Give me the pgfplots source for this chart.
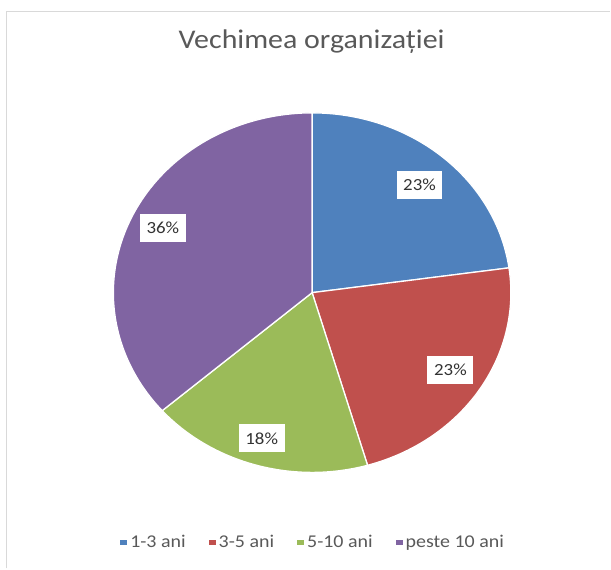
\documentclass[border=0pt]{standalone}
\usepackage{fontspec}
\setmainfont{Carlito}
\usepackage{pgfplots}
\usepackage{graphicx}
\pgfplotsset{compat=1.18}
\definecolor{cBlue}{HTML}{4F81BD}
\definecolor{cRed}{HTML}{C0504D}
\definecolor{cGreen}{HTML}{9BBB59}
\definecolor{cPurple}{HTML}{8064A2}
\definecolor{txt}{HTML}{595959}
\definecolor{frame}{HTML}{D9D9D9}
% share of each slice (percent)
\def\vA{22.8}\def\vB{22.7}\def\vC{18.1}\def\vD{36.4}
\pgfmathsetmacro\aA{90}
\pgfmathsetmacro\aB{\aA-3.6*\vA}
\pgfmathsetmacro\aC{\aB-3.6*\vB}
\pgfmathsetmacro\aD{\aC-3.6*\vC}
\pgfmathsetmacro\aE{\aD-3.6*\vD}
\def\cx{312.5}\def\cy{276}\def\rx{199}\def\ry{180}
\newcommand{\hs}[1]{\scalebox{1.11}[1]{#1}}
\begin{document}
\begin{tikzpicture}
\begin{axis}[
  hide axis, scale only axis, width=611pt, height=569pt,
  xmin=0, xmax=611, ymin=0, ymax=569, clip=false,
  legend columns=4,
  legend style={at={(axis cs:314,26)}, anchor=center, draw=none, fill=none,
    font=\fontsize{18}{18}\selectfont, text=txt,
    /tikz/every even column/.append style={column sep=20pt},
    nodes={inner sep=3pt}},
  legend image code/.code={\fill[#1,draw=none] (0pt,-2.5pt) rectangle (7pt,2.5pt);},
]
\path (axis cs:0,0) (axis cs:611,569);
\draw[frame, line width=1.5pt] (axis cs:6.5,0) -- (axis cs:6.5,557.5) -- (axis cs:611,557.5);
\addplot[fill=cBlue, draw=white, line width=1.3pt, domain=\aB:\aA, samples=60, variable=\t]
  ({\cx+\rx*cos(\t)},{\cy+\ry*sin(\t)}) -- (axis cs:\cx,\cy) -- cycle;
\addplot[fill=cRed, draw=white, line width=1.3pt, domain=\aC:\aB, samples=60, variable=\t]
  ({\cx+\rx*cos(\t)},{\cy+\ry*sin(\t)}) -- (axis cs:\cx,\cy) -- cycle;
\addplot[fill=cGreen, draw=white, line width=1.3pt, domain=\aD:\aC, samples=60, variable=\t]
  ({\cx+\rx*cos(\t)},{\cy+\ry*sin(\t)}) -- (axis cs:\cx,\cy) -- cycle;
\addplot[fill=cPurple, draw=white, line width=1.3pt, domain=\aE:\aD, samples=90, variable=\t]
  ({\cx+\rx*cos(\t)},{\cy+\ry*sin(\t)}) -- (axis cs:\cx,\cy) -- cycle;
\legend{\hs{1-3 ani},\hs{3-5 ani},\hs{5-10 ani},\hs{peste 10 ani}}
\node[text=txt, font=\fontsize{27}{27}\selectfont, xscale=1.11] at (axis cs:312,527) {Vechimea organizației};
\tikzset{lbl/.style={fill=white, text=black!80, font=\fontsize{17}{17}\selectfont, minimum width=46pt, minimum height=28pt, inner sep=0pt}}
\node[lbl] at (axis cs:420,384) {\hs{23\%}};
\node[lbl] at (axis cs:451,199) {\hs{23\%}};
\node[lbl] at (axis cs:262,130) {\hs{18\%}};
\node[lbl] at (axis cs:163,341) {\hs{36\%}};
\end{axis}
\end{tikzpicture}
\end{document}
